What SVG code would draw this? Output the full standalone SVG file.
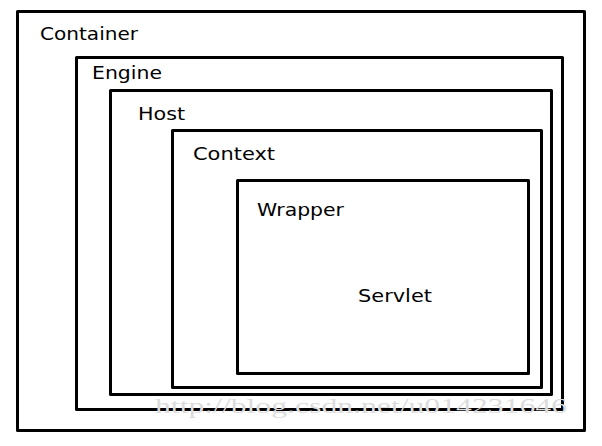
<svg xmlns="http://www.w3.org/2000/svg" width="602" height="446" viewBox="0 0 602 446">
<style>
.box{fill:none;stroke:#000;stroke-width:3;stroke-linejoin:round}
.lbl{font-family:"DejaVu Sans","Liberation Sans",sans-serif;font-size:18px;fill:#000}
.wm{font-family:"Liberation Serif",serif;font-size:22px;fill:#dcdcdc}
</style>
<rect width="602" height="446" fill="#fff"/>
<g id="container"><rect class="box" x="17.5" y="11.5" width="567" height="419"/><text class="lbl" x="40" y="40" textLength="98" lengthAdjust="spacingAndGlyphs">Container</text></g>
<g id="engine"><rect class="box" x="76.5" y="57.5" width="486" height="352"/><text class="lbl" x="92" y="79" textLength="70" lengthAdjust="spacingAndGlyphs">Engine</text></g>
<g id="host"><rect class="box" x="110.5" y="90.5" width="441" height="304"/><text class="lbl" x="138" y="120" textLength="47" lengthAdjust="spacingAndGlyphs">Host</text></g>
<g id="context"><rect class="box" x="172.5" y="130.5" width="369" height="257"/><text class="lbl" x="193" y="160" textLength="82" lengthAdjust="spacingAndGlyphs">Context</text></g>
<g id="wrapper"><rect class="box" x="237.5" y="180.5" width="291" height="193"/><text class="lbl" x="257" y="216" textLength="87" lengthAdjust="spacingAndGlyphs">Wrapper</text></g>
<g id="servlet"><text class="lbl" x="358" y="302" textLength="74" lengthAdjust="spacingAndGlyphs">Servlet</text></g>
<g id="connectors"></g>
<text class="wm" x="155" y="413" textLength="412" lengthAdjust="spacingAndGlyphs">http://blog.csdn.net/u014231646</text>
</svg>
